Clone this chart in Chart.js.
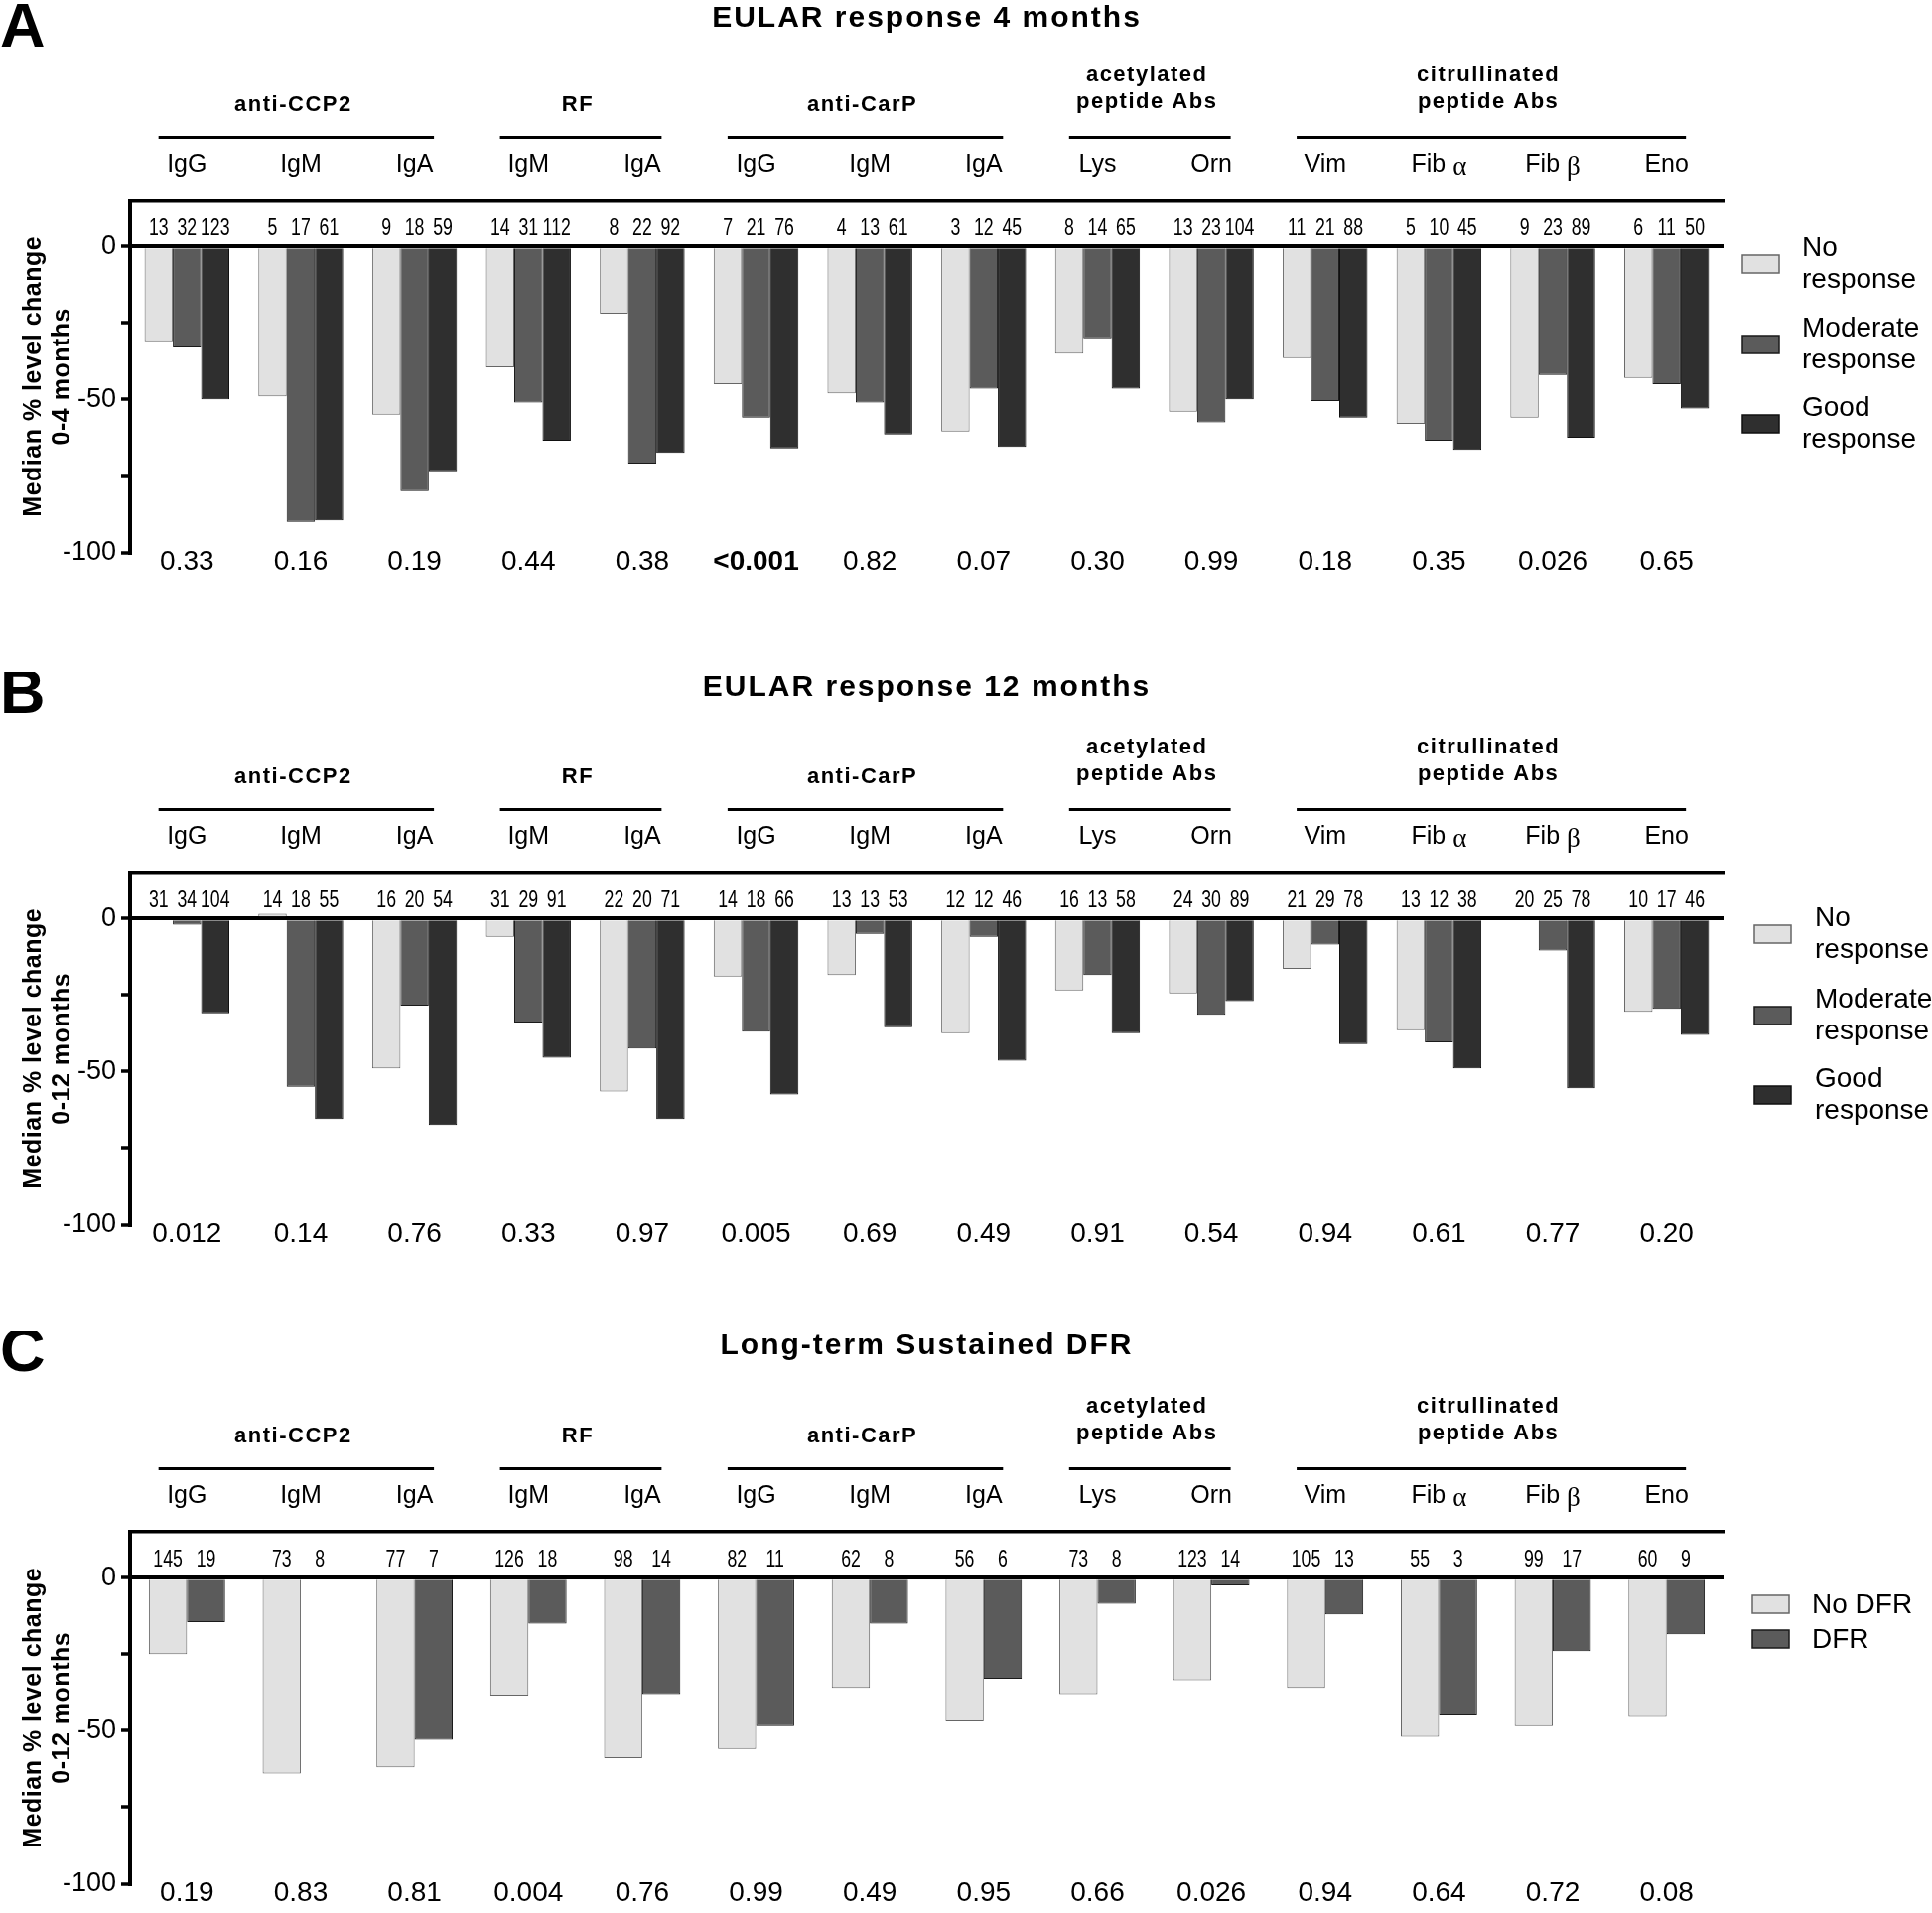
<!DOCTYPE html>
<html lang="en">
<head>
<meta charset="UTF-8">
<title>Median % level change by response</title>
<script src="https://cdn.jsdelivr.net/npm/chart.js"></script>
<style>
  body { margin: 0; background: #fff; overflow: hidden; }
  .panel { position: absolute; left: 0; width: 1946px; }
</style>
</head>
<body>
<div class="panel" style="top:0"><canvas id="chartA" width="1946" height="600"></canvas></div>
<div class="panel" style="top:677px"><canvas id="chartB" width="1946" height="600"></canvas></div>
<div class="panel" style="top:1341px"><canvas id="chartC" width="1946" height="586"></canvas></div>
<script>
// categories shared by all three panels
var categories = ['IgG', 'IgM', 'IgA', 'IgM', 'IgA', 'IgG', 'IgM', 'IgA', 'Lys', 'Orn', 'Vim', 'Fib α', 'Fib β', 'Eno'];
var groupNames = [['anti-CCP2'], ['RF'], ['anti-CarP'], ['acetylated', 'peptide Abs'], ['citrullinated', 'peptide Abs']];
var groupFirst = [0, 3, 5, 8, 10];
var groupLast = [2, 4, 7, 9, 13];
var yTicks = [-100, -75, -50, -25, 0];

// A: EULAR response 4 months
var noRespA = [-31, -49, -55, -39.5, -22, -45, -48, -60.5, -35, -54, -36.5, -58, -56, -43];
var modRespA = [-33, -90, -80, -51, -71, -56, -51, -46.5, -30, -57.5, -50.5, -63.5, -42, -45];
var goodRespA = [-50, -89.5, -73.5, -63.5, -67.5, -66, -61.5, -65.5, -46.5, -50, -56, -66.5, -62.5, -53];
var nNoA = [13, 5, 9, 14, 8, 7, 4, 3, 8, 13, 11, 5, 9, 6];
var nModA = [32, 17, 18, 31, 22, 21, 13, 12, 14, 23, 21, 10, 23, 11];
var nGoodA = [123, 61, 59, 112, 92, 76, 61, 45, 65, 104, 88, 45, 89, 50];
var pA = ['0.33', '0.16', '0.19', '0.44', '0.38', '<0.001', '0.82', '0.07', '0.30', '0.99', '0.18', '0.35', '0.026', '0.65'];

// B: EULAR response 12 months
var noRespB = [0, 1.5, -49, -6, -56.5, -19, -18.5, -37.5, -23.5, -24.5, -16.5, -36.5, 0, -30.5];
var modRespB = [-2, -55, -28.5, -34, -42.5, -37, -5, -6, -18.5, -31.5, -8.5, -40.5, -10.5, -29.5];
var goodRespB = [-31, -65.5, -67.5, -45.5, -65.5, -57.5, -35.5, -46.5, -37.5, -27, -41, -49, -55.5, -38];
var nNoB = [31, 14, 16, 31, 22, 14, 13, 12, 16, 24, 21, 13, 20, 10];
var nModB = [34, 18, 20, 29, 20, 18, 13, 12, 13, 30, 29, 12, 25, 17];
var nGoodB = [104, 55, 54, 91, 71, 66, 53, 46, 58, 89, 78, 38, 78, 46];
var pB = ['0.012', '0.14', '0.76', '0.33', '0.97', '0.005', '0.69', '0.49', '0.91', '0.54', '0.94', '0.61', '0.77', '0.20'];

// C: Long-term sustained DFR
var noDfrC = [-25, -64, -62, -38.5, -59, -56, -36, -47, -38, -33.5, -36, -52, -48.5, -45.5];
var dfrC = [-14.5, 0, -53, -15, -38, -48.5, -15, -33, -8.5, -2.5, -12, -45, -24, -18.5];
var nNoDfrC = [145, 73, 77, 126, 98, 82, 62, 56, 73, 123, 105, 55, 99, 60];
var nDfrC = [19, 8, 7, 18, 14, 11, 8, 6, 8, 14, 13, 3, 17, 9];
var pC = ['0.19', '0.83', '0.81', '0.004', '0.76', '0.99', '0.49', '0.95', '0.66', '0.026', '0.94', '0.64', '0.72', '0.08'];

var FONT = "'Liberation Sans', Arial, sans-serif";
var SERIF = "'Liberation Serif', 'Times New Roman', serif";
var LIGHT = '#e1e1e1', MID = '#5b5b5b', DARK = '#2f2f2f';

// category label, greek letter set in serif like the original
function drawCatLabel(ctx, text, x, y) {
  var m = text.match(/^(.*?)([αβ])$/);
  ctx.font = '25px ' + FONT;
  if (!m) {
    ctx.textAlign = 'center';
    ctx.fillText(text, x, y);
    return;
  }
  var w1 = ctx.measureText(m[1]).width;
  ctx.font = '27px ' + SERIF;
  var w2 = ctx.measureText(m[2]).width;
  var x0 = x - (w1 + w2) / 2;
  ctx.textAlign = 'left';
  ctx.font = '25px ' + FONT;
  ctx.fillText(m[1], x0, y);
  ctx.font = '27px ' + SERIF;
  ctx.fillText(m[2], x0 + w1, y + 3);
}

var panelDecor = {
  id: 'panelDecor',
  afterDraw: function(chart, args, o) {
    var ctx = chart.ctx, area = chart.chartArea, xs = chart.scales.x;
    var catW = (xs.right - xs.left) / chart.data.labels.length;
    ctx.save();
    ctx.fillStyle = '#000';
    ctx.strokeStyle = '#000';
    ctx.textBaseline = 'alphabetic';

    // panel letter and title
    ctx.textAlign = 'left';
    ctx.font = 'bold 63px ' + FONT;
    ctx.fillText(o.letter, 0, o.letterY);
    ctx.letterSpacing = '2px';
    ctx.textAlign = 'center';
    ctx.font = 'bold 30px ' + FONT;
    ctx.fillText(o.title, (area.left + area.right) / 2, o.titleY);

    // antibody groups
    ctx.letterSpacing = '1.5px';
    ctx.font = 'bold 22px ' + FONT;
    ctx.lineWidth = 3;
    groupNames.forEach(function(name, g) {
      var x1 = xs.getPixelForValue(groupFirst[g]) - 0.25 * catW;
      var x2 = xs.getPixelForValue(groupLast[g]) + 0.17 * catW;
      ctx.beginPath();
      ctx.moveTo(x1, 138.5);
      ctx.lineTo(x2, 138.5);
      ctx.stroke();
      var cx = (x1 + x2) / 2 - 3;
      if (name.length === 1) {
        ctx.fillText(name[0], cx, 112);
      } else {
        ctx.fillText(name[0], cx, 82);
        ctx.fillText(name[1], cx, 109);
      }
    });
    ctx.letterSpacing = '0px';

    // category labels above the frame
    chart.data.labels.forEach(function(lab, i) {
      drawCatLabel(ctx, lab, xs.getPixelForValue(i), 173);
    });

    // y title
    ctx.save();
    ctx.translate(0, (area.top + area.bottom) / 2);
    ctx.rotate(-Math.PI / 2);
    ctx.textAlign = 'center';
    ctx.textBaseline = 'middle';
    ctx.letterSpacing = '0.5px';
    ctx.font = 'bold 25px ' + FONT;
    ctx.fillText(o.yTitle[0], 0, 34);
    ctx.fillText(o.yTitle[1], 0, 63);
    ctx.restore();

    // patient numbers over each bar (condensed)
    ctx.textAlign = 'center';
    ctx.font = '23px ' + FONT;
    o.counts.forEach(function(arr, d) {
      var meta = chart.getDatasetMeta(d);
      arr.forEach(function(n, i) {
        ctx.save();
        ctx.translate(meta.data[i].x, 237);
        ctx.scale(0.77, 1);
        ctx.fillText(String(n), 0, 0);
        ctx.restore();
      });
    });

    // p values
    o.pValues.forEach(function(p, i) {
      ctx.font = (p.charAt(0) === '<' ? 'bold ' : '') + '28px ' + FONT;
      ctx.fillText(p, xs.getPixelForValue(i), 574);
    });

    // legend
    var lg = o.legend;
    chart.data.datasets.forEach(function(ds, d) {
      var y = lg.ys[d];
      ctx.fillStyle = ds.backgroundColor;
      ctx.fillRect(lg.boxX, y - 9, 37, 18);
      ctx.lineWidth = 1.5;
      ctx.strokeStyle = ds.borderColor;
      ctx.strokeRect(lg.boxX, y - 9, 37, 18);
      ctx.fillStyle = '#000';
      ctx.textAlign = 'left';
      ctx.font = '28px ' + FONT;
      if (lg.twoLine) {
        var k = ds.label.indexOf(' ');
        ctx.fillText(ds.label.slice(0, k), lg.textX, y - 8);
        ctx.fillText(ds.label.slice(k + 1), lg.textX, y + 24);
      } else {
        ctx.fillText(ds.label, lg.textX, y + 9);
      }
    });
    ctx.restore();
  }
};

function makeChart(id, height, catPct, datasets, decor) {
  return new Chart(document.getElementById(id), {
    type: 'bar',
    data: { labels: categories, datasets: datasets },
    options: {
      responsive: false,
      animation: false,
      devicePixelRatio: 1,
      layout: { padding: { top: 202, bottom: height - 556.5, left: 0, right: 210 } },
      datasets: { bar: { categoryPercentage: catPct, barPercentage: 1, borderWidth: 1 } },
      plugins: {
        legend: { display: false },
        tooltip: { enabled: false },
        panelDecor: decor
      },
      scales: {
        x: {
          position: 'top',
          grid: { display: false },
          ticks: { display: false },
          border: { display: true, color: '#000', width: 3.5 },
          afterFit: function(s) { s.height = 0; }
        },
        y: {
          min: -100,
          max: 15,
          z: 1,
          afterFit: function(s) { s.width = 131; },
          afterBuildTicks: function(s) { s.ticks = yTicks.map(function(v) { return { value: v }; }); },
          ticks: {
            color: '#000',
            padding: 5,
            font: { family: FONT, size: 27 },
            callback: function(v) { return v % 50 === 0 ? String(v) : ''; }
          },
          grid: {
            color: function(c) { return c.tick && c.tick.value === 0 ? '#000' : 'rgba(0,0,0,0)'; },
            lineWidth: 4,
            tickColor: '#000',
            tickLength: 9,
            tickWidth: 3.5
          },
          border: { display: true, color: '#000', width: 4 }
        }
      }
    },
    plugins: [panelDecor]
  });
}

function bars(label, data, fill, edge) {
  return { label: label, data: data, backgroundColor: fill, borderColor: edge };
}

makeChart('chartA', 600, 0.745, [
  bars('No response', noRespA, LIGHT, '#666'),
  bars('Moderate response', modRespA, MID, '#1a1a1a'),
  bars('Good response', goodRespA, DARK, '#111')
], {
  letter: 'A', letterY: 47, title: 'EULAR response 4 months', titleY: 27,
  yTitle: ['Median % level change', '0-4 months'],
  counts: [nNoA, nModA, nGoodA], pValues: pA,
  legend: { boxX: 1755, textX: 1815, ys: [266, 347, 427], twoLine: true }
});

makeChart('chartB', 600, 0.745, [
  bars('No response', noRespB, LIGHT, '#666'),
  bars('Moderate response', modRespB, MID, '#1a1a1a'),
  bars('Good response', goodRespB, DARK, '#111')
], {
  letter: 'B', letterY: 41, title: 'EULAR response 12 months', titleY: 24,
  yTitle: ['Median % level change', '0-12 months'],
  counts: [nNoB, nModB, nGoodB], pValues: pB,
  legend: { boxX: 1767, textX: 1828, ys: [264, 346, 426], twoLine: true }
});

makeChart('chartC', 586, 0.67, [
  bars('No DFR', noDfrC, LIGHT, '#666'),
  bars('DFR', dfrC, MID, '#1a1a1a')
], {
  letter: 'C', letterY: 40, title: 'Long-term Sustained DFR', titleY: 23,
  yTitle: ['Median % level change', '0-12 months'],
  counts: [nNoDfrC, nDfrC], pValues: pC,
  legend: { boxX: 1765, textX: 1825, ys: [275, 310], twoLine: false }
});
</script>
</body>
</html>
